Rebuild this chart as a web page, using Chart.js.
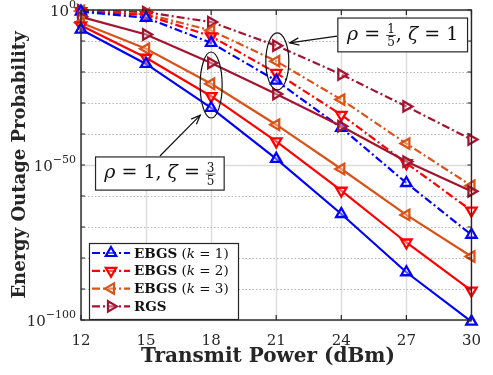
<!DOCTYPE html>
<html><head><meta charset="utf-8">
<script src="https://cdn.jsdelivr.net/npm/chart.js@4.4.0/dist/chart.umd.min.js"></script>
<style>html,body{margin:0;padding:0;background:#fff}</style>
</head><body>
<canvas id="c" width="493" height="375"></canvas>
<script>
// Transmit power grid (dBm)
const powerDbm = [12, 15, 18, 21, 24, 27, 30];
// log10 of the energy outage probability, rho = 1, zeta = 3/5 (solid)
const ebgs1A = [-6.3, -17.4, -31.6, -48.0, -65.8, -84.6, -100.5];
const ebgs2A = [-5.0, -15.4, -27.8, -42.4, -58.3, -75.0, -90.5];
const ebgs3A = [-4.1, -12.5, -23.8, -37.0, -51.3, -66.1, -79.5];
const rgsA   = [-2.2, -7.9, -17.1, -27.1, -37.5, -48.9, -58.5];
// log10 of the energy outage probability, rho = 1/5, zeta = 1 (dash-dot)
const ebgs1B = [-0.5, -2.5, -10.6, -22.8, -38.0, -55.8, -72.5];
const ebgs2B = [-0.4, -1.6, -8.5, -20.3, -33.8, -49.4, -64.7];
const ebgs3B = [-0.3, -1.3, -6.6, -16.5, -28.9, -43.1, -56.7];
const rgsB   = [-0.1, -0.7, -3.9, -11.5, -20.8, -31.1, -41.8];
// axis ticks
const xTicks = [12, 15, 18, 21, 24, 27, 30];
const yLabelExps = [0, -50, -100];
const yMinorExps = [-10, -20, -30, -40, -60, -70, -80, -90];
const legendNames = ['EBGS', 'EBGS', 'EBGS', 'RGS'];
const legendK = ['1', '2', '3', null];

const BLUE = '#0000ff', RED = '#ff0000', ORANGE = '#d95319', WINE = '#a2142f';
const DASHDOT = [8, 3, 2, 3];
const SERIF = '"DejaVu Serif", serif';
const MARKER_FILL = 'rgba(255,255,255,0.35)';

function pts(exps) { return powerDbm.map((p, i) => ({ x: p, y: Math.pow(10, exps[i]) })); }
function series(label, exps, color, rot, dashed) {
  return {
    label, data: pts(exps), borderColor: color, pointBorderColor: color,
    pointBackgroundColor: MARKER_FILL, borderWidth: 2.2,
    pointStyle: 'triangle', pointRotation: rot, pointRadius: 6, pointBorderWidth: 2.3,
    borderDash: dashed ? DASHDOT : [], tension: 0, clip: false, fill: false
  };
}

const datasets = [
  series('EBGS (k=1) A', ebgs1A, BLUE, 0, false),
  series('EBGS (k=2) A', ebgs2A, RED, 180, false),
  series('EBGS (k=3) A', ebgs3A, ORANGE, 270, false),
  series('RGS A', rgsA, WINE, 90, false),
  series('EBGS (k=1) B', ebgs1B, BLUE, 0, true),
  series('EBGS (k=2) B', ebgs2B, RED, 180, true),
  series('EBGS (k=3) B', ebgs3B, ORANGE, 270, true),
  series('RGS B', rgsB, WINE, 90, true)
];

// grid: solid lines at labelled decades and x ticks, dotted at the others
const gridPlugin = {
  id: 'grid',
  beforeDatasetsDraw(chart) {
    const { ctx, chartArea: a, scales: { x, y } } = chart;
    ctx.save();
    ctx.strokeStyle = '#dcdcdc';
    ctx.lineWidth = 1.4;
    xTicks.forEach(v => {
      const px = Math.round(x.getPixelForValue(v)) + 0.5;
      ctx.beginPath(); ctx.moveTo(px, a.top); ctx.lineTo(px, a.bottom); ctx.stroke();
    });
    yLabelExps.forEach(e => {
      const py = Math.round(y.getPixelForValue(Math.pow(10, e))) + 0.5;
      ctx.beginPath(); ctx.moveTo(a.left, py); ctx.lineTo(a.right, py); ctx.stroke();
    });
    ctx.strokeStyle = '#b4b4b4';
    ctx.lineWidth = 1;
    ctx.setLineDash([1.5, 2]);
    yMinorExps.forEach(e => {
      const py = Math.round(y.getPixelForValue(Math.pow(10, e))) + 0.5;
      ctx.beginPath(); ctx.moveTo(a.left, py); ctx.lineTo(a.right, py); ctx.stroke();
    });
    ctx.restore();
  }
};

// draw a run of text pieces, each with its own font; returns end x
function drawPieces(ctx, pieces, x0, yMid, dry) {
  let xx = x0;
  pieces.forEach(p => {
    if (p.frac) {
      ctx.font = p.font;
      const w = Math.max(ctx.measureText(p.frac[0]).width, ctx.measureText(p.frac[1]).width);
      if (!dry) {
        ctx.textAlign = 'center';
        ctx.textBaseline = 'alphabetic';
        ctx.fillText(p.frac[0], xx + w / 2 + 1, yMid - 2);
        ctx.fillText(p.frac[1], xx + w / 2 + 1, yMid + 11);
        ctx.beginPath(); ctx.moveTo(xx, yMid + 0.5); ctx.lineTo(xx + w + 2, yMid + 0.5);
        ctx.lineWidth = 0.8; ctx.stroke();
        ctx.textAlign = 'left';
      }
      xx += w + 2;
    } else {
      ctx.font = p.font;
      if (!dry) { ctx.textBaseline = 'middle'; ctx.fillText(p.t, xx, yMid); }
      xx += ctx.measureText(p.t).width;
    }
  });
  return xx;
}

function arrow(ctx, x1, y1, x2, y2) {
  ctx.beginPath(); ctx.moveTo(x1, y1); ctx.lineTo(x2, y2); ctx.stroke();
  const ang = Math.atan2(y2 - y1, x2 - x1), L = 10, W = 0.38;
  ctx.beginPath();
  ctx.moveTo(x2 - L * Math.cos(ang - W), y2 - L * Math.sin(ang - W));
  ctx.lineTo(x2, y2);
  ctx.lineTo(x2 - L * Math.cos(ang + W), y2 - L * Math.sin(ang + W));
  ctx.stroke();
}

const framePlugin = {
  id: 'frame',
  afterDraw(chart) {
    const { ctx, chartArea: a, scales: { x, y } } = chart;
    const Y = e => y.getPixelForValue(Math.pow(10, e));
    ctx.save();
    // axes box and inward ticks
    ctx.strokeStyle = '#262626';
    ctx.lineWidth = 1.4;
    ctx.strokeRect(a.left, a.top, a.right - a.left, a.bottom - a.top);
    ctx.lineWidth = 1.2;
    xTicks.forEach(v => {
      const px = x.getPixelForValue(v);
      ctx.beginPath(); ctx.moveTo(px, a.bottom); ctx.lineTo(px, a.bottom - 5);
      ctx.moveTo(px, a.top); ctx.lineTo(px, a.top + 5); ctx.stroke();
    });
    yLabelExps.concat(yMinorExps).forEach(e => {
      const py = Y(e);
      ctx.beginPath(); ctx.moveTo(a.left, py); ctx.lineTo(a.left + 4, py);
      ctx.moveTo(a.right, py); ctx.lineTo(a.right - 4, py); ctx.stroke();
    });
    // y tick labels 10^n
    ctx.fillStyle = '#262626';
    yLabelExps.forEach(e => {
      const py = Y(e);
      const sup = e === 0 ? '0' : '\u2212' + String(-e);
      ctx.font = '11px ' + SERIF;
      const ws = ctx.measureText(sup).width;
      ctx.font = '15px ' + SERIF;
      const wb = ctx.measureText('10').width;
      const right = a.left - 5;
      ctx.textBaseline = 'alphabetic';
      ctx.textAlign = 'left';
      ctx.fillText('10', right - ws - wb, py + 6);
      ctx.font = '11px ' + SERIF;
      ctx.fillText(sup, right - ws, py - 2);
    });

    // x axis title
    ctx.font = 'bold 20px ' + SERIF;
    ctx.textAlign = 'center';
    ctx.textBaseline = 'middle';
    ctx.fillText('Transmit Power (dBm)', 268, 357);

    // legend
    const lx = 89, ly = 243, lw = 149, lh = 76;
    ctx.fillStyle = '#fff';
    ctx.fillRect(lx, ly, lw, lh);
    ctx.strokeStyle = '#262626'; ctx.lineWidth = 1.2;
    ctx.strokeRect(lx + 0.5, ly + 0.5, lw, lh);
    const legendSets = chart.data.datasets.slice(4);
    legendSets.forEach((ds, i) => {
      const ry = 253 + i * 17.8;
      ctx.strokeStyle = ds.borderColor; ctx.lineWidth = 2.2;
      ctx.setLineDash(DASHDOT);
      ctx.beginPath(); ctx.moveTo(92, ry); ctx.lineTo(130, ry); ctx.stroke();
      ctx.setLineDash([]);
      ctx.fillStyle = MARKER_FILL;
      Chart.helpers.drawPoint(ctx, { pointStyle: 'triangle', rotation: ds.pointRotation, radius: 6, borderWidth: 2.3 }, 111, ry);
      ctx.fillStyle = '#111';
      const pieces = [{ t: legendNames[i], font: 'bold 13.5px ' + SERIF }];
      if (legendK[i]) {
        pieces.push({ t: ' (', font: '13.5px ' + SERIF });
        pieces.push({ t: 'k', font: 'italic 13.5px ' + SERIF });
        pieces.push({ t: ' = ' + legendK[i] + ')', font: '13.5px ' + SERIF });
      }
      ctx.textAlign = 'left';
      drawPieces(ctx, pieces, 134, ry + 1);
    });

    // annotations: ellipses around the 18 dBm and 21 dBm groups
    ctx.strokeStyle = '#111'; ctx.lineWidth = 1.2;
    ctx.beginPath();
    ctx.ellipse(x.getPixelForValue(18), Y(-24.2), 11, 33, 0, 0, Math.PI * 2); ctx.stroke();
    ctx.beginPath();
    ctx.ellipse(x.getPixelForValue(21.05), Y(-16.6), 11.5, 28.5, 0, 0, Math.PI * 2); ctx.stroke();
    arrow(ctx, x.getPixelForValue(15.64), Y(-47.1), x.getPixelForValue(17.5), Y(-33.9));
    arrow(ctx, x.getPixelForValue(23.8), Y(-8.4), x.getPixelForValue(21.62), Y(-10.6));

    // annotation boxes
    const boxes = [
      { x1: 12.67, x2: 18.6, e1: -47.4, e2: -58.1,
        pieces: [{ t: '\u03c1', font: 'italic 19px ' + SERIF }, { t: ' = 1, ', font: '19px ' + SERIF },
                 { t: '\u03b6', font: 'italic 19px ' + SERIF }, { t: ' = ', font: '19px ' + SERIF },
                 { frac: ['3', '5'], font: '12px ' + SERIF }] },
      { x1: 23.84, x2: 29.82, e1: -2.6, e2: -13.5,
        pieces: [{ t: '\u03c1', font: 'italic 19px ' + SERIF }, { t: ' = ', font: '19px ' + SERIF },
                 { frac: ['1', '5'], font: '12px ' + SERIF }, { t: ', ', font: '19px ' + SERIF },
                 { t: '\u03b6', font: 'italic 19px ' + SERIF }, { t: ' = 1', font: '19px ' + SERIF }] }
    ];
    boxes.forEach(b => {
      const bx1 = x.getPixelForValue(b.x1), bx2 = x.getPixelForValue(b.x2);
      const by1 = Y(b.e1), by2 = Y(b.e2);
      ctx.fillStyle = '#fff';
      ctx.fillRect(bx1, by1, bx2 - bx1, by2 - by1);
      ctx.strokeStyle = '#262626'; ctx.lineWidth = 1.2;
      ctx.strokeRect(bx1, by1, bx2 - bx1, by2 - by1);
      ctx.fillStyle = '#111'; ctx.strokeStyle = '#111';
      ctx.textAlign = 'left';
      const w = drawPieces(ctx, b.pieces, 0, 0, true);
      drawPieces(ctx, b.pieces, (bx1 + bx2) / 2 - w / 2, (by1 + by2) / 2);
    });
    ctx.restore();
  }
};

new Chart(document.getElementById('c'), {
  type: 'line',
  data: { datasets },
  options: {
    responsive: false, animation: false, devicePixelRatio: 1,
    layout: { padding: { top: 10, right: 6, left: 0, bottom: 0 } },
    plugins: { legend: { display: false }, tooltip: { enabled: false } },
    scales: {
      x: {
        type: 'linear', min: 12, max: 30,
        afterBuildTicks: s => { s.ticks = xTicks.map(v => ({ value: v })); },
        afterFit: s => { s.height = 55; },
        grid: { display: false, drawTicks: false }, border: { display: false },
        ticks: { color: '#262626', font: { family: SERIF, size: 15 }, padding: 12, maxRotation: 0 },
        title: { display: false }
      },
      y: {
        type: 'logarithmic', min: 1e-100, max: 1,
        afterBuildTicks: s => { s.ticks = yLabelExps.map(e => ({ value: Math.pow(10, e) })); },
        afterFit: s => { s.width = 81; },
        grid: { display: false, drawTicks: false }, border: { display: false },
        ticks: { display: false },
        title: { display: true, text: 'Energy Outage Probability', color: '#262626',
                 font: { family: SERIF, size: 18, weight: 'bold' }, padding: { top: 10, bottom: 0 } }
      }
    }
  },
  plugins: [gridPlugin, framePlugin]
});
</script>
</body></html>
